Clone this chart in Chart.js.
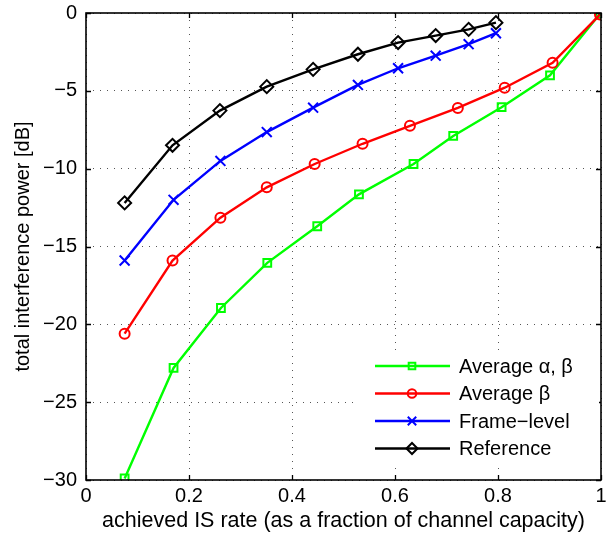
<!DOCTYPE html>
<html>
<head>
<meta charset="utf-8">
<script src="https://cdn.jsdelivr.net/npm/chart.js@4/dist/chart.umd.min.js"></script>
<style>
  html, body { margin: 0; padding: 0; background: #fff; }
  #wrap { width: 610px; height: 545px; position: relative; }
</style>
</head>
<body>
<div id="wrap"><canvas id="isChart" width="610" height="545"></canvas></div>
<script>
// values
const alphaBetaX = [0.075, 0.170, 0.262, 0.352, 0.449, 0.530, 0.636, 0.713, 0.807, 0.901, 0.998];
const alphaBetaY = [-29.9, -22.8, -18.95, -16.05, -13.7, -11.65, -9.7, -7.9, -6.05, -4.0, -0.05];

const betaX = [0.075, 0.168, 0.261, 0.351, 0.444, 0.537, 0.629, 0.722, 0.813, 0.906, 0.998];
const betaY = [-20.6, -15.9, -13.15, -11.2, -9.7, -8.4, -7.25, -6.1, -4.8, -3.2, -0.1];

const frameX = [0.075, 0.170, 0.261, 0.351, 0.441, 0.528, 0.606, 0.679, 0.743, 0.796];
const frameY = [-15.9, -12.0, -9.5, -7.65, -6.08, -4.62, -3.55, -2.74, -2.0, -1.3];

const refX = [0.075, 0.168, 0.260, 0.351, 0.441, 0.528, 0.606, 0.679, 0.743, 0.796];
const refY = [-12.2, -8.5, -6.27, -4.73, -3.62, -2.65, -1.9, -1.45, -1.05, -0.62];

const xTicks = [0, 0.2, 0.4, 0.6, 0.8, 1];
const yTicks = [-30, -25, -20, -15, -10, -5, 0];

const FONT = "'Liberation Sans', Arial, Helvetica, sans-serif";

// wanted plot box (matlab axes position)
const AREA = { left: 86, top: 13, right: 606, bottom: 480 };

function toPoints(xs, ys) {
    return xs.map((x, i) => ({ x: x, y: ys[i] }));
}

function series(label, xs, ys, color, style, radius, order) {
    return {
        label: label,
        data: toPoints(xs, ys),
        borderColor: color,
        backgroundColor: "rgba(0,0,0,0)",
        borderWidth: 2.4,
        pointStyle: style,
        pointRadius: radius,
        pointBorderWidth: 2,
        pointBorderColor: color,
        pointBackgroundColor: "rgba(0,0,0,0)",
        order: order,
        tension: 0,
        fill: false
    };
}

const datasets = [
    series("Average \u03b1, \u03b2", alphaBetaX, alphaBetaY, "#00ff00", "rect", 5.5, 4),
    series("Average \u03b2", betaX, betaY, "#ff0000", "circle", 5, 3),
    series("Frame\u2212level", frameX, frameY, "#0000ff", "crossRot", 7, 2),
    series("Reference", refX, refY, "#000000", "rectRot", 6.5, 1)
];

// box, inside ticks and legend, drawn like the matlab figure
const matlabFrame = {
    id: "matlabFrame",
    afterDatasetsDraw(chart) {
        const ctx = chart.ctx;
        const a = chart.chartArea;
        const xs = chart.scales.x, ys = chart.scales.y;
        ctx.save();
        ctx.strokeStyle = "#000";
        ctx.lineWidth = 1.3;
        ctx.setLineDash([]);
        ctx.beginPath();
        xTicks.forEach(v => {
            const px = Math.round(xs.getPixelForValue(v)) + 0.5;
            ctx.moveTo(px, a.bottom); ctx.lineTo(px, a.bottom - 5);
            ctx.moveTo(px, a.top); ctx.lineTo(px, a.top + 5);
        });
        yTicks.forEach(v => {
            const py = Math.round(ys.getPixelForValue(v)) + 0.5;
            ctx.moveTo(a.left, py); ctx.lineTo(a.left + 5, py);
            ctx.moveTo(a.right, py); ctx.lineTo(a.right - 5, py);
        });
        ctx.stroke();
        ctx.lineWidth = 1.6;
        ctx.strokeRect(a.left, a.top, a.right - a.left, a.bottom - a.top);

        // legend
        const lx = 353, ly = 350, lw = a.right - 2 - lx, lh = 116;
        ctx.fillStyle = "#fff";
        ctx.fillRect(lx, ly, lw, lh);
        ctx.font = "20px " + FONT;
        ctx.textBaseline = "middle";
        ctx.textAlign = "left";
        chart.data.datasets.forEach((ds, i) => {
            const y = 366 + i * 27.5;
            ctx.strokeStyle = ds.borderColor;
            ctx.lineWidth = ds.borderWidth;
            ctx.beginPath();
            ctx.moveTo(375, y); ctx.lineTo(450, y);
            ctx.stroke();
            ctx.fillStyle = "rgba(0,0,0,0)";
            ctx.lineWidth = 2;
            Chart.helpers.drawPoint(ctx, {
                pointStyle: ds.pointStyle,
                radius: ds.pointRadius * 0.85,
                borderWidth: 2,
                rotation: 0
            }, 412, y);
            ctx.fillStyle = "#000";
            ctx.fillText(ds.label, 459, y + 1);
        });
        ctx.restore();
    }
};

const ctx = document.getElementById("isChart").getContext("2d");

const chart = new Chart(ctx, {
    type: "line",
    data: { datasets: datasets },
    options: {
        responsive: false,
        animation: false,
        events: [],
        layout: { padding: { top: 13, right: 4, left: 0, bottom: 0 } },
        plugins: {
            legend: { display: false },
            tooltip: { enabled: false }
        },
        scales: {
            x: {
                type: "linear",
                min: 0,
                max: 1,
                afterFit(scale) {
                    scale.height = 65;
                    scale.paddingLeft = 0;
                    scale.paddingRight = 0;
                },
                afterBuildTicks(scale) { scale.ticks = xTicks.map(v => ({ value: v })); },
                ticks: {
                    color: "#000",
                    font: { family: FONT, size: 20 },
                    padding: 4,
                    maxRotation: 0,
                    callback: v => String(v)
                },
                grid: {
                    drawTicks: false,
                    color: "#555",
                    lineWidth: 1
                },
                border: { display: false, dash: [1, 6] },
                title: {
                    display: true,
                    text: "achieved IS rate (as a fraction of channel capacity)",
                    color: "#000",
                    font: { family: FONT, size: 21.5 },
                    padding: { top: 0, bottom: 11 }
                }
            },
            y: {
                type: "linear",
                min: -30,
                max: 0,
                afterFit(scale) {
                    scale.width = 86;
                    scale.paddingTop = 0;
                    scale.paddingBottom = 0;
                },
                afterBuildTicks(scale) { scale.ticks = yTicks.map(v => ({ value: v })); },
                ticks: {
                    color: "#000",
                    font: { family: FONT, size: 20 },
                    padding: 9,
                    callback: v => String(v).replace("-", "\u2212")
                },
                grid: {
                    drawTicks: false,
                    color: "#555",
                    lineWidth: 1
                },
                border: { display: false, dash: [1, 6] },
                title: {
                    display: true,
                    text: "total interference power [dB]",
                    color: "#000",
                    font: { family: FONT, size: 20 },
                    padding: { top: 11, bottom: 0 }
                }
            }
        }
    },
    plugins: [matlabFrame]
});

// nudge the layout padding until the plot box sits where the figure has it
for (let k = 0; k < 3; k++) {
    const a = chart.chartArea;
    const pad = chart.options.layout.padding;
    const dr = a.right - AREA.right, dt = a.top - AREA.top;
    if (Math.abs(dr) < 0.5 && Math.abs(dt) < 0.5) break;
    pad.right = pad.right + dr;
    pad.top = pad.top - dt;
    chart.update();
}
</script>
</body>
</html>
